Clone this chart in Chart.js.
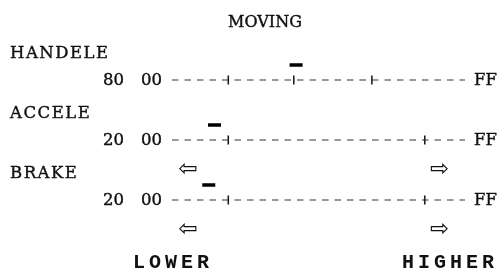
<!DOCTYPE html>
<html>
<head>
<meta charset="utf-8">
<script src="https://cdn.jsdelivr.net/npm/chart.js@4"></script>
<style>
  html, body { margin: 0; padding: 0; background: #fff; }
  canvas { display: block; }
</style>
</head>
<body>
<canvas id="chart" width="504" height="271"></canvas>
<script>
// rows of the panel, top to bottom
const rowNames = ['HANDELE', 'ACCELE', 'BRAKE'];
const rowValues = ['80', '20', '20'];
// scale runs from 00 to FF (hex)
const scaleStartLabel = '00';
const scaleEndLabel = 'FF';
const scaleMin = 0;
const scaleMax = 255;
// tick marks on each row (hex units)
const rowTicks = [
  [49, 106, 174],
  [49, 220],
  [49, 220]
];
// current setting marker on each row
const rowMarkers = [108, 37, 32];
const title = 'MOVING';
const lowLabel = 'LOWER';
const highLabel = 'HIGHER';

const INK = '#111';
// scale spans x = 172..465 px
const pxPerUnit = 293 / 255;

const datasets = [];
rowNames.forEach(function(name, i){
  datasets.push({
    label: name,
    data: [{x: scaleMin, y: i}, {x: scaleMax, y: i}],
    showLine: true,
    borderColor: '#333',
    borderWidth: 1.1,
    borderDash: [6.5, 6],
    pointRadius: 0,
    clip: false
  });
});
datasets.push({
  label: 'ticks',
  data: rowTicks.flatMap(function(ts, i){ return ts.map(function(t){ return {x: t, y: i}; }); }),
  showLine: false,
  pointStyle: 'line',
  rotation: 90,
  pointRadius: 4.5,
  borderWidth: 1.5,
  borderColor: INK,
  clip: false
});
datasets.push({
  label: 'markers',
  data: rowMarkers.map(function(m, i){ return {x: m, y: i - 0.25}; }),
  showLine: false,
  pointStyle: 'line',
  pointRadius: 6.5,
  borderWidth: 3.5,
  borderColor: '#000',
  clip: false
});

function ink(ctx, text, x, y){
  ctx.fillText(text, x, y);
  ctx.strokeText(text, x, y);
}

const textPlugin = {
  id: 'panelText',
  afterDraw(chart){
    const ctx = chart.ctx;
    const xs = chart.scales.x, ys = chart.scales.y;
    ctx.save();
    ctx.fillStyle = INK;
    ctx.strokeStyle = INK;
    ctx.lineWidth = 0.4;
    ctx.font = '16px "DejaVu Serif"';
    ctx.textAlign = 'center';
    ctx.textBaseline = 'alphabetic';
    ink(ctx, title, 265, 27);

    rowNames.forEach(function(name, i){
      const y = ys.getPixelForValue(i);
      ctx.font = '16.5px "DejaVu Serif"';
      ctx.letterSpacing = '1.5px';
      ctx.textAlign = 'left';
      ctx.textBaseline = 'alphabetic';
      ink(ctx, name, 10, y - 22.5);
      ctx.letterSpacing = '0px';
      ctx.textBaseline = 'middle';
      ink(ctx, rowValues[i], 103, y + 1);
      ink(ctx, scaleStartLabel, 141, y + 1);
      ink(ctx, scaleEndLabel, 474, y + 1);
    });

    // direction arrows under the last two rows
    ctx.font = '23px "DejaVu Sans"';
    ctx.textAlign = 'center';
    ctx.textBaseline = 'middle';
    [1.5, 2.5].forEach(function(v){
      const y = ys.getPixelForValue(v);
      ctx.fillText('\u21E6', xs.getPixelForValue(14), y);
      ctx.fillText('\u21E8', xs.getPixelForValue(233), y);
    });

    ctx.font = 'bold 20px "Liberation Mono"';
    ctx.letterSpacing = '4px';
    ctx.textAlign = 'left';
    ctx.textBaseline = 'alphabetic';
    ctx.fillText(lowLabel, 133, 268);
    ctx.fillText(highLabel, 402, 268);
    ctx.restore();
  }
};

new Chart(document.getElementById('chart').getContext('2d'), {
  type: 'scatter',
  data: { datasets: datasets },
  options: {
    responsive: false,
    animation: false,
    layout: { padding: 0, autoPadding: false },
    plugins: { legend: { display: false }, tooltip: { enabled: false } },
    scales: {
      x: { type: 'linear', display: false, min: -172 / pxPerUnit, max: (504 - 172) / pxPerUnit },
      y: { type: 'linear', display: false, reverse: true, min: -80 / 60, max: 191 / 60 }
    }
  },
  plugins: [textPlugin]
});
</script>
</body>
</html>
